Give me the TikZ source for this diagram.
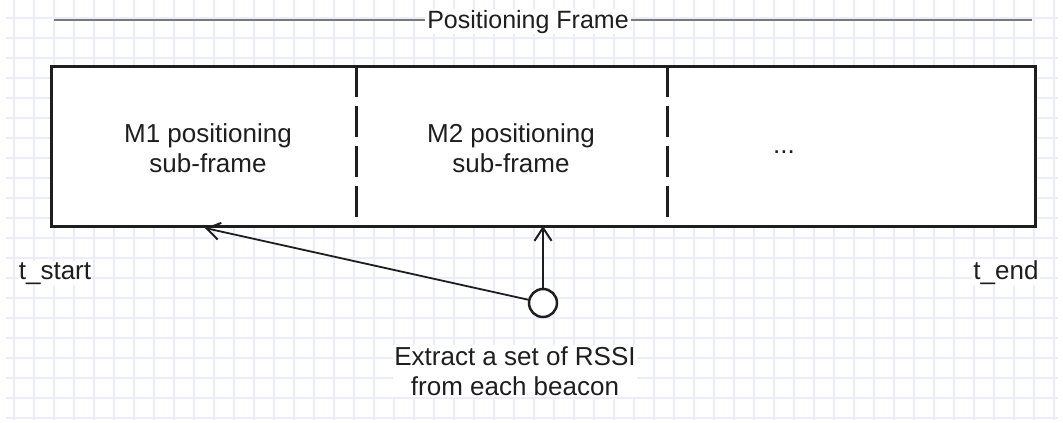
\documentclass[tikz,border=0pt]{standalone}
\usepackage{fontspec}
\setmainfont{Liberation Sans}
\usetikzlibrary{arrows.meta}
\definecolor{gridc}{RGB}{236,236,251}
\definecolor{framec}{RGB}{120,120,120}
\definecolor{ink}{RGB}{30,30,30}
\tikzset{
  lbl/.style={font=\fontsize{26}{30}\selectfont, text=ink, align=center, inner sep=1pt},
  boxedge/.style={draw=ink, line width=3pt, fill=white, inner sep=0pt, outer sep=0pt},
  divider/.style={draw=ink, line width=3pt, dash pattern=on 31pt off 9pt},
  ptr/.style={draw=ink, line width=1.8pt, -{Straight Barb[length=13pt,width=17pt,line width=2pt]}},
  gridline/.style={draw=gridc, line width=1.5pt},
}
\begin{document}
\begin{tikzpicture}[x=1pt,y=-1pt]
\useasboundingbox (0,0) rectangle (1063,423);
\fill[white] (0,0) rectangle (1063,423);

% background grid
\foreach \gx in {14,34,...,1054} \draw[gridline] (\gx,0) -- (\gx,420);
\foreach \gy in {18,38,...,418} \draw[gridline] (6,\gy) -- (1058,\gy);

% frame span
\coordinate (fl) at (54,20);
\coordinate (fr) at (1032,20);
\draw[framec, line width=2.5pt] (fl) -- (fr);
\node[lbl, fill=white, inner xsep=2pt, font=\fontsize{25}{30}\selectfont, anchor=base] (frame) at (528,28) {Positioning Frame};

% frame box with sub-frame dividers
\node[boxedge, minimum width=984pt, minimum height=160pt] (box) at (543,146) {};
\coordinate (d1) at (356,146);
\coordinate (d2) at (667,146);
\draw[divider] (d1 |- box.north) -- (d1 |- box.south);
\draw[divider] (d2 |- box.north) -- (d2 |- box.south);

\node[lbl] (m1) at (208,148) {M1 positioning\\sub-frame};
\node[lbl] (m2) at (511,148) {M2 positioning\\sub-frame};
\node[lbl, anchor=base] (dots) at (784,153) {...};

% time markers
\node[lbl, fill=white, anchor=base] (ts) at (55,279) {t\_start};
\node[lbl, fill=white, anchor=base] (te) at (1006,279) {t\_end};

% beacon and its pointers
\node[circle, draw=ink, line width=2.5pt, fill=white, minimum size=28pt, inner sep=0pt] (bc) at (543,303) {};
\coordinate (m1tip) at (205,228);
\draw[ptr] (bc.north) -- (bc.north |- box.south);
\draw[ptr] (bc) -- (m1tip);

\node[lbl, fill=white] (ex) at (515,371) {Extract a set of RSSI\\from each beacon};
\end{tikzpicture}
\end{document}
